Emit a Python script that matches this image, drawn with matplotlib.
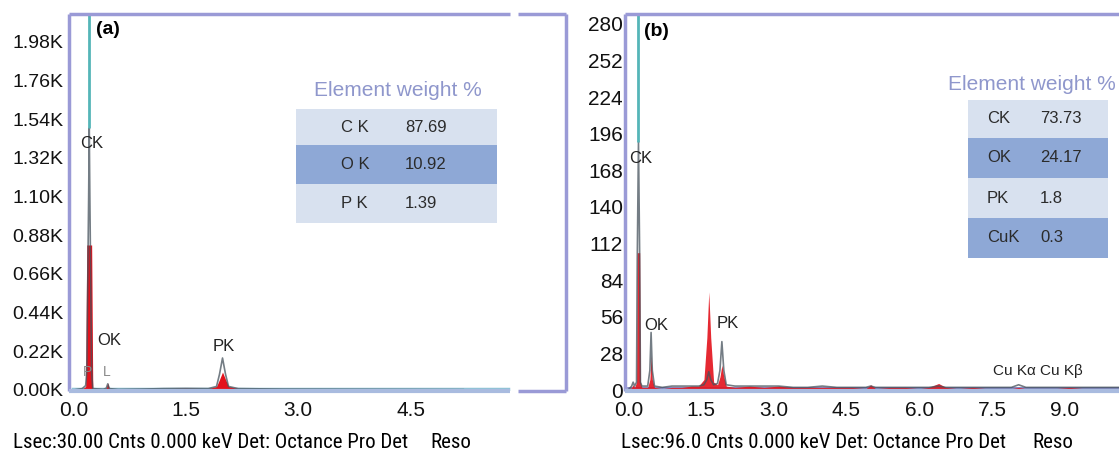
import matplotlib
matplotlib.use("Agg")
import matplotlib.pyplot as plt
from matplotlib.patches import Rectangle

plt.rcParams['font.family'] = ['Liberation Sans', 'DejaVu Sans']

# ---------------- data ----------------
# Panel (a) spectrum
a_energy = [0.00, 0.12, 0.165, 0.18, 0.205, 0.213, 0.221, 0.245, 0.26, 0.40, 0.44, 0.46, 0.48,
            0.60, 0.90, 1.20, 1.50, 1.80, 1.91, 1.95, 1.99, 2.03, 2.07, 2.20, 2.80, 3.60, 4.40, 5.20]
a_fill = [0, 6, 20, 825, 825, 825, 825, 825, 6, 3, 10, 40, 8,
          3, 5, 8, 10, 8, 20, 60, 102, 60, 20, 8, 5, 4, 3, 2]
a_line = [0, 8, 25, 100, 1100, 1490, 1100, 100, 8, 4, 10, 35, 8,
          3, 5, 8, 9, 8, 20, 90, 182, 90, 20, 8, 5, 4, 3, 2]
a_base_energy = [0.0, 5.80]
a_base_counts = [4, 4]
a_ck_energy = 0.213
a_ck_peak = 1490

a_yticks = [0, 220, 440, 660, 880, 1100, 1320, 1540, 1760, 1980]
a_yticklabels = ["0.00K", "0.22K", "0.44K", "0.66K", "0.88K", "1.10K", "1.32K", "1.54K", "1.76K", "1.98K"]
a_xticks = [0.0, 1.5, 3.0, 4.5]
a_xticklabels = ["0.0", "1.5", "3.0", "4.5"]

# Panel (b) spectrum
b_energy = [0.00, 0.07, 0.10, 0.13, 0.17, 0.185, 0.21, 0.235, 0.25, 0.28, 0.40, 0.445, 0.47, 0.495,
            0.54, 0.70, 0.90, 1.10, 1.30, 1.45, 1.56, 1.62, 1.66, 1.70, 1.76, 1.84, 1.89, 1.93, 1.97,
            2.02, 2.20, 2.50, 2.80, 3.10, 3.40, 3.70, 4.00, 4.30, 4.60, 4.90, 5.00, 5.10, 5.40, 5.70,
            6.00, 6.20, 6.40, 6.55, 6.80, 7.10, 7.40, 7.70, 7.90, 8.05, 8.20, 8.50, 8.80, 9.10, 9.40,
            9.70, 10.00, 10.12]
b_fill = [0, 2, 4, 2, 6, 105, 105, 105, 6, 2, 2, 8, 26, 8,
          2, 1, 2, 2, 3, 3, 8, 40, 75, 40, 6, 4, 10, 19, 10,
          3, 2, 3, 2, 3, 2, 2, 2, 2, 2, 1, 4, 1, 2, 2,
          1, 2, 5, 2, 1, 2, 1, 1, 1, 2, 1, 1, 1, 2, 1,
          1, 1, 1]
b_line = [0, 3, 6, 3, 6, 100, 190, 100, 6, 3, 3, 15, 44, 15,
          3, 2, 3, 3, 3, 3, 4, 8, 14, 8, 4, 5, 15, 37, 15,
          4, 3, 3, 3, 3, 2, 2, 3, 2, 2, 2, 3, 2, 2, 2,
          2, 2, 3, 2, 2, 2, 2, 2, 2, 4, 2, 2, 2, 2, 2,
          2, 2, 2]
b_ck_energy = 0.21
b_ck_peak = 190

b_yticks = [0, 28, 56, 84, 112, 140, 168, 196, 224, 252, 280]
b_yticklabels = ["0", "28", "56", "84", "112", "140", "168", "196", "224", "252", "280"]
b_xticks = [0.0, 1.5, 3.0, 4.5, 6.0, 7.5, 9.0]
b_xticklabels = ["0.0", "1.5", "3.0", "4.5", "6.0", "7.5", "9.0"]

# Tables
table_a_elements = ["C K", "O K", "P K"]
table_a_values = ["87.69", "10.92", "1.39"]
table_b_elements = ["CK", "OK", "PK", "CuK"]
table_b_values = ["73.73", "24.17", "1.8", "0.3"]

footer_a = "Lsec:30.00 Cnts 0.000 keV Det: Octance Pro Det"
footer_b = "Lsec:96.0 Cnts 0.000 keV Det: Octance Pro Det"

# ---------------- style ----------------
W, H = 1119, 454
RED = '#e3121c'
LINE = '#46525c'
TEAL = '#55b5b8'
SPINE = '#9a9ad6'
SPINE_LIGHT = '#a9bbdf'
LIGHT_ROW = '#d8e1ef'
DARK_ROW = '#8ea8d6'
TITLE_C = '#8f97cc'
FOOT_FAMILY = ['Liberation Sans Narrow', 'Arial Narrow', 'Roboto Condensed', 'Liberation Sans', 'DejaVu Sans']

fig = plt.figure(figsize=(W / 100, H / 100), dpi=100)


def rect(l, t, r, b):
    return [l / W, 1 - b / H, (r - l) / W, (b - t) / H]


def fx(x):
    return x / W


def fy(y):
    return 1 - y / H


def setup(ax, xticks, xlabels, yticks, ylabels, ysize, ypad):
    for s in ax.spines.values():
        s.set_visible(False)
    ax.set_xticks(xticks)
    ax.set_xticklabels(xlabels)
    ax.set_yticks(yticks)
    ax.set_yticklabels(ylabels)
    ax.tick_params(axis='x', length=0, pad=7, labelsize=15, colors='#111111')
    ax.tick_params(axis='y', length=0, pad=ypad, labelsize=ysize, colors='#111111')
    ax.patch.set_alpha(0)


def hline(ax, x0, x1, y, color, lw=2.5):
    ax.plot([x0, x1], [y, y], transform=ax.transAxes, color=color, lw=lw,
            clip_on=False, solid_capstyle='butt', zorder=5)


def vline(ax, x, y0, y1, color, lw=2.5):
    ax.plot([x, x], [y0, y1], transform=ax.transAxes, color=color, lw=lw,
            clip_on=False, solid_capstyle='butt', zorder=5)


# ---------------- panel (a) ----------------
axA = fig.add_axes(rect(69, 14, 566, 391))
axA.set_xlim(-0.057, 6.57)
axA.set_ylim(-5.7, 2139)
setup(axA, a_xticks, a_xticklabels, a_yticks, a_yticklabels, 14, 4)

axA.plot(a_base_energy, a_base_counts, color='#8fc3d6', lw=2.5, zorder=1)
axA.fill_between(a_energy, a_fill, 0, color=RED, lw=0, zorder=2)
axA.plot(a_energy, a_line, color=LINE, lw=1.2, alpha=0.75, zorder=3)
axA.vlines(a_ck_energy, a_ck_peak, 2139, color=TEAL, lw=2, zorder=3)

gap0 = (510 - 69) / (566 - 69)
gap1 = (518 - 69) / (566 - 69)
vline(axA, 0, 0, 1, SPINE)
vline(axA, 1, 0, 1, SPINE)
hline(axA, 0, gap0, 1, SPINE)
hline(axA, gap1, 1, 1, SPINE)
hline(axA, 0, gap0, 0, SPINE_LIGHT, 3)
hline(axA, gap1, 1, 0, SPINE)

axA.text(0.25, 1405, "CK", fontsize=12, ha='center', va='center', color='#222222')
axA.text(0.477, 284, "OK", fontsize=12, ha='center', va='center', color='#222222')
axA.text(2.01, 246, "PK", fontsize=12, ha='center', va='center', color='#222222')
axA.text(0.19, 104, "P", fontsize=10, ha='center', va='center', color='#8a8a8a')
axA.text(0.44, 104, "L", fontsize=10, ha='center', va='center', color='#8a8a8a')
fig.text(fx(108), fy(30), "(a)", fontsize=14, fontweight='bold', ha='center', va='center')

# ---------------- panel (b) ----------------
axB = fig.add_axes(rect(625, 14, 1119, 391))
axB.set_xlim(-0.068, 10.12)
axB.set_ylim(-0.76, 287.5)
setup(axB, b_xticks, b_xticklabels, b_yticks, b_yticklabels, 15, 1.5)

axB.plot([0, 10.12], [1.2, 1.2], color='#6d74b8', lw=1.2, zorder=1)
axB.fill_between(b_energy, b_fill, 0, color=RED, lw=0, alpha=0.9, zorder=2)
axB.plot(b_energy, b_line, color=LINE, lw=1.2, alpha=0.75, zorder=3)
axB.vlines(b_ck_energy, b_ck_peak, 287.5, color=TEAL, lw=2, zorder=3)

vline(axB, 0, 0, 1, SPINE)
hline(axB, 0, 1, 1, SPINE)
hline(axB, 0, 1, 0, SPINE_LIGHT, 3)

axB.text(0.25, 177, "CK", fontsize=12, ha='center', va='center', color='#222222')
axB.text(0.58, 49.6, "OK", fontsize=12, ha='center', va='center', color='#222222')
axB.text(2.06, 51, "PK", fontsize=12, ha='center', va='center', color='#222222')
axB.text(8.45, 14.5, "Cu K\u03b1 Cu K\u03b2", fontsize=11, ha='center', va='center', color='#222222')
fig.text(fx(656), fy(31), "(b)", fontsize=14, fontweight='bold', ha='center', va='center')


# ---------------- tables ----------------
def draw_table(title, title_xy, elems, vals, x0, x1, row_edges, ex, vx, fs):
    fig.text(fx(title_xy[0]), fy(title_xy[1]), title, fontsize=15, color=TITLE_C,
             ha='center', va='center')
    for i, (e, v) in enumerate(zip(elems, vals)):
        top, bot = row_edges[i], row_edges[i + 1]
        col = LIGHT_ROW if i % 2 == 0 else DARK_ROW
        fig.add_artist(Rectangle((fx(x0), fy(bot)), (x1 - x0) / W, (bot - top) / H,
                                 transform=fig.transFigure, facecolor=col, edgecolor='none', zorder=6))
        yc = (top + bot) / 2
        fig.text(fx(ex), fy(yc), e, fontsize=fs, color='#2b2b2b', ha='left', va='center', zorder=7)
        fig.text(fx(vx), fy(yc), v, fontsize=fs, color='#2b2b2b', ha='left', va='center', zorder=7)


draw_table("Element weight %", (398, 91), table_a_elements, table_a_values,
           296, 497, [109, 145, 184, 223], 341, 405, 12)
draw_table("Element weight %", (1032, 84), table_b_elements, table_b_values,
           968, 1108, [100, 138, 178, 218, 258], 987, 1040, 12)

# ---------------- footers ----------------
renderer = fig.canvas.get_renderer()


def footer(text, x0, x1, y, reso_x):
    t = fig.text(fx(x0), fy(y), text, fontsize=15, ha='left', va='center', family=FOOT_FAMILY)
    w = t.get_window_extent(renderer).width
    t.set_fontsize(min(15, 15 * (x1 - x0) / w))
    r = fig.text(fx(reso_x), fy(y), "Reso", fontsize=t.get_fontsize(), ha='left', va='center',
                 family=FOOT_FAMILY)
    return t, r


footer(footer_a, 13, 410, 443, 430)
footer(footer_b, 621, 1018, 442, 1032)

fig.savefig("out.png", dpi=100)
